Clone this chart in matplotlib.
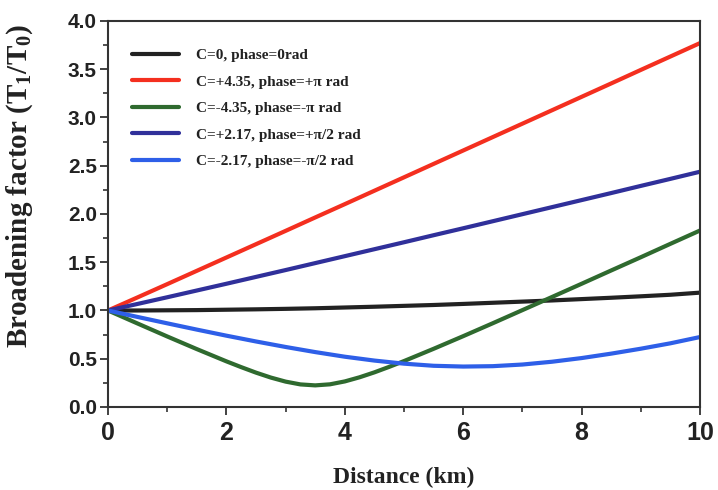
import matplotlib
matplotlib.use("Agg")
import matplotlib.pyplot as plt
from matplotlib.ticker import MultipleLocator

# distance along the fibre (km)
distance = [0, 0.5, 1, 1.5, 2, 2.5, 3, 3.5, 4, 4.5, 5, 5.5, 6, 6.5, 7, 7.5, 8, 8.5, 9, 9.5, 10]
# finer steps around the minimum of the C=-4.35 curve
distance_fin = [0, 0.5, 1, 1.5, 2, 2.25, 2.5, 2.75, 3, 3.25, 3.5, 3.75, 4, 4.25, 4.5, 4.75,
                5, 5.5, 6, 6.5, 7, 7.5, 8, 8.5, 9, 9.5, 10]

# broadening factor T1/T0 for each chirp value
bf_c0 = [1.000, 1.000, 1.002, 1.004, 1.008, 1.012, 1.017, 1.023, 1.031, 1.039, 1.048,
         1.057, 1.068, 1.080, 1.092, 1.104, 1.118, 1.132, 1.147, 1.163, 1.185]
bf_c435p = [1.000, 1.136, 1.273, 1.411, 1.549, 1.687, 1.825, 1.964, 2.102, 2.241, 2.380,
            2.519, 2.658, 2.797, 2.936, 3.075, 3.214, 3.353, 3.493, 3.632, 3.771]
bf_c435m = [1.000, 0.865, 0.731, 0.600, 0.473, 0.413, 0.356, 0.305, 0.263, 0.234, 0.224,
            0.235, 0.265, 0.308, 0.359, 0.416, 0.476, 0.603, 0.734, 0.868, 1.004, 1.140,
            1.277, 1.415, 1.552, 1.691, 1.829]
bf_c217p = [1.000, 1.068, 1.137, 1.207, 1.277, 1.348, 1.419, 1.491, 1.563, 1.635, 1.707,
            1.780, 1.852, 1.925, 1.998, 2.071, 2.144, 2.217, 2.291, 2.364, 2.438]
bf_c217m = [1.000, 0.933, 0.867, 0.802, 0.739, 0.679, 0.622, 0.569, 0.521, 0.481, 0.449,
            0.427, 0.419, 0.423, 0.440, 0.469, 0.507, 0.553, 0.604, 0.660, 0.725]

labels = ["C=0, phase=0rad",
          "C=+4.35, phase=+π rad",
          "C=-4.35, phase=-π rad",
          "C=+2.17, phase=+π/2 rad",
          "C=-2.17, phase=-π/2 rad"]
couleurs = ["#222222", "#f42f1f", "#2f6a2f", "#30309a", "#2e5fe8"]

fig = plt.figure(figsize=(7.18, 4.90), dpi=100)
ax = fig.add_axes([0.1504, 0.1694, 0.8246, 0.7878])

courbes = [(distance, bf_c0), (distance, bf_c435p), (distance_fin, bf_c435m),
           (distance, bf_c217p), (distance, bf_c217m)]
for (x, y), c, lab in zip(courbes, couleurs, labels):
    ax.plot(x, y, color=c, lw=3.0, label=lab, solid_capstyle='round', solid_joinstyle='round')

ax.set_xlim(0, 10)
ax.set_ylim(0, 4.0)
ax.xaxis.set_major_locator(MultipleLocator(2))
ax.xaxis.set_minor_locator(MultipleLocator(1))
ax.yaxis.set_minor_locator(MultipleLocator(0.25))
ax.set_yticks([0, 0.5, 1, 1.5, 2, 2.5, 3, 3.5, 4])
ax.set_yticklabels(["%.1f" % v for v in ax.get_yticks()])

for s in ax.spines.values():
    s.set_linewidth(1.5)
    s.set_color("#333333")
ax.tick_params(which='major', direction='out', length=6, width=1.3, color="#333333")
ax.tick_params(which='minor', direction='out', length=3.5, width=1.2, color="#333333")
for t in ax.get_xticklabels():
    t.set_fontfamily('Liberation Sans')
    t.set_fontweight('bold')
    t.set_fontsize(18)
    t.set_color("#222222")
for t in ax.get_yticklabels():
    t.set_fontfamily('Liberation Sans')
    t.set_fontweight('bold')
    t.set_fontsize(15)
    t.set_color("#222222")
ax.tick_params(axis='x', pad=4)
ax.tick_params(axis='y', pad=2)

ax.set_xlabel("Distance (km)", fontfamily='Liberation Serif', fontweight='bold',
              fontsize=17, color="#222222", labelpad=16)
ax.set_ylabel(r"Broadening factor (T$_\mathregular{1}$/T$_\mathregular{0}$)",
              fontfamily='Liberation Serif', fontweight='bold', fontsize=21,
              color="#222222")
ax.yaxis.set_label_coords(-0.123, 0.573)

leg = ax.legend(loc='upper left', bbox_to_anchor=(0.03, 0.944), frameon=False,
                borderaxespad=0, handlelength=3.1, handletextpad=1.1, labelspacing=0.83,
                prop={'family': 'Liberation Serif', 'weight': 'bold', 'size': 11})
for t in leg.get_texts():
    t.set_color("#222222")

fig.savefig("out.png", dpi=100)
